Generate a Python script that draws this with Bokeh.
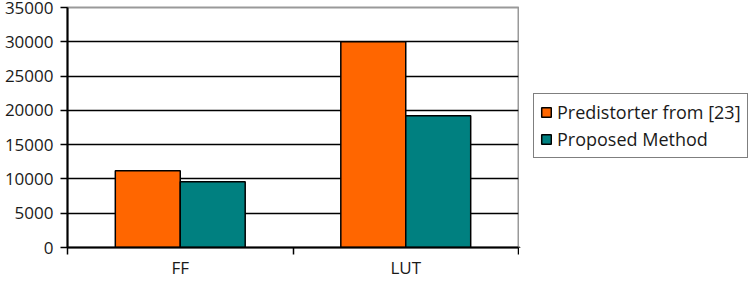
from bokeh.plotting import figure
from bokeh.layouts import row
from bokeh.models import Range1d, FixedTicker, Legend, LegendItem
from bokeh.embed import file_html
from bokeh.resources import INLINE

categories = ["FF", "LUT"]
series_names = ["Predistorter from [23]", "Proposed Method"]
predistorter = [11200, 30000]
proposed = [9600, 19200]
y_ticks = [0, 5000, 10000, 15000, 20000, 25000, 30000, 35000]

colors = ["#FF6600", "#008080"]
FONT = "Open Sans"

p = figure(width=519, height=292, output_backend="svg", toolbar_location=None,
           x_range=Range1d(0, len(categories)), y_range=Range1d(0, 35000),
           min_border_left=67, min_border_right=1, min_border_top=7, min_border_bottom=45)

centers = [i + 0.5 for i in range(len(categories))]
bw = 0.288
bar_kw = dict(line_color="#000000", line_width=1.5)
p.vbar(x=[c - bw / 2 for c in centers], top=predistorter, width=bw, bottom=0,
       fill_color=colors[0], **bar_kw)
p.vbar(x=[c + bw / 2 for c in centers], top=proposed, width=bw, bottom=0,
       fill_color=colors[1], **bar_kw)

# axes
p.yaxis.ticker = FixedTicker(ticks=y_ticks)
p.yaxis.major_tick_out = 7
p.yaxis.major_tick_in = 0
p.yaxis.minor_tick_line_color = None
p.yaxis.axis_line_width = 2
p.yaxis.major_tick_line_width = 1.5
p.yaxis.major_label_standoff = 7

p.xaxis.ticker = FixedTicker(ticks=centers, minor_ticks=list(range(len(categories) + 1)))
p.xaxis.major_label_overrides = {c: cat for c, cat in zip(centers, categories)}
p.xaxis.major_tick_out = 0
p.xaxis.major_tick_in = 0
p.xaxis.minor_tick_out = 7
p.xaxis.minor_tick_in = 0
p.xaxis.minor_tick_line_width = 1.5
p.xaxis.minor_tick_line_color = "#000000"
p.xaxis.axis_line_width = 2
p.xaxis.major_label_standoff = 1

for ax in (p.xaxis[0], p.yaxis[0]):
    ax.axis_line_color = "#000000"
    ax.major_tick_line_color = "#000000"
    ax.major_label_text_font = FONT
    ax.major_label_text_font_size = "17px"
    ax.major_label_text_color = "#1a1a1a"

p.xgrid.grid_line_color = None
p.ygrid.ticker = FixedTicker(ticks=y_ticks[1:-1])
p.ygrid.grid_line_color = "#000000"
p.ygrid.grid_line_width = 1.5

p.outline_line_color = "#999999"
p.outline_line_width = 2
p.background_fill_color = "#ffffff"
p.border_fill_color = "#ffffff"

# legend panel (separate figure on the right; its bars lie far outside its view)
lp = figure(width=230, height=292, output_backend="svg", toolbar_location=None,
            x_axis_type=None, y_axis_type=None,
            x_range=Range1d(1000, 1001), y_range=Range1d(1e6, 1e6 + 1),
            min_border=0)
lp.outline_line_color = None
lp.xgrid.grid_line_color = None
lp.ygrid.grid_line_color = None
lr1 = lp.vbar(x=[c - bw / 2 for c in centers], top=predistorter, width=bw, bottom=0,
              fill_color=colors[0], **bar_kw)
lr2 = lp.vbar(x=[c + bw / 2 for c in centers], top=proposed, width=bw, bottom=0,
              fill_color=colors[1], **bar_kw)

legend = Legend(items=[LegendItem(label=series_names[0], renderers=[lr1]),
                       LegendItem(label=series_names[1], renderers=[lr2])],
                location=(14, 89))
legend.label_text_font = FONT
legend.label_text_font_size = "18px"
legend.label_text_color = "#1a1a1a"
legend.glyph_width = 12
legend.glyph_height = 12
legend.label_height = 20
legend.label_standoff = 5
legend.spacing = 3
legend.padding = 6
legend.margin = 0
legend.border_line_color = "#000000"
legend.border_line_width = 1.5
legend.background_fill_color = "#ffffff"
lp.add_layout(legend, "center")

layout = row(p, lp, spacing=0)

open("out.html", "w").write(file_html(layout, INLINE))
